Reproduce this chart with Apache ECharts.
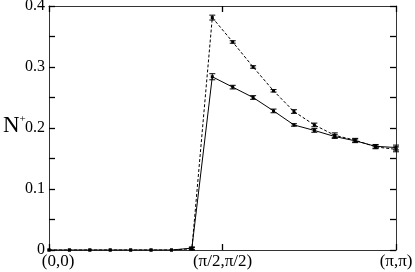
<!DOCTYPE html>
<html>
<head>
<meta charset="utf-8">
<script src="https://cdn.jsdelivr.net/npm/echarts@6/dist/echarts.min.js"></script>
<style>html,body{margin:0;padding:0;background:#fff;}#c{width:415px;height:272px;}</style>
</head>
<body>
<div id="c"></div>
<script>
// k index along path (0,0) -> (pi,pi), 17 steps
var kIndex = [0,1,2,3,4,5,6,7,8,9,10,11,12,13,14,15,16,17];
var solidVals  = [0,0,0,0,0,0,0,0.003,0.284,0.267,0.250,0.228,0.205,0.196,0.186,0.179,0.170,0.168];
var solidErr   = [0,0,0,0,0,0,0,0.002,0.005,0.003,0.003,0.003,0.002,0.003,0.003,0.003,0.003,0.004];
var dashedVals = [0,0,0,0,0,0,0,0.002,0.381,0.341,0.300,0.261,0.227,0.205,0.188,0.180,0.169,0.165];
var dashedErr  = [0,0,0,0,0,0,0,0.002,0.004,0.002,0.002,0.002,0.003,0.003,0.004,0.003,0.003,0.004];
var xTickLabels = {0:'(0,0)', 8.5:'(\u03c0/2,\u03c0/2)', 17:'(\u03c0,\u03c0)'};
var yTickLabels = {0:'0', 10:'0.1', 20:'0.2', 30:'0.3', 40:'0.4'};
var yName = ['N', '+'];

function pairs(xs, ys){ return xs.map(function(x,i){return [x, ys[i]];}); }
function errData(xs, ys, es){ return xs.map(function(x,i){return [x, ys[i]-es[i], ys[i]+es[i]];}); }

function errRender(params, api){
  var x = api.value(0), lo = api.value(1), hi = api.value(2);
  if (hi - lo <= 0) return null;
  var p1 = api.coord([x, lo]), p2 = api.coord([x, hi]);
  var hw = 3;
  var st = {stroke:'#000', lineWidth:1};
  return {type:'group', children:[
    {type:'line', shape:{x1:p1[0],y1:p1[1],x2:p2[0],y2:p2[1]}, style:st},
    {type:'line', shape:{x1:p1[0]-hw,y1:p1[1],x2:p1[0]+hw,y2:p1[1]}, style:st},
    {type:'line', shape:{x1:p2[0]-hw,y1:p2[1],x2:p2[0]+hw,y2:p2[1]}, style:st}
  ]};
}

var axisColor = '#333';
var fontFam = '"Liberation Serif","Times New Roman",serif';
function frameAxis(extra){
  var a = {
    type:'value', splitLine:{show:false},
    axisLine:{show:true, onZero:false, lineStyle:{color:axisColor, width:1}},
    axisTick:{show:true, inside:true, length:6, lineStyle:{color:'#000', width:1.3}},
    axisLabel:{show:false}
  };
  for (var k in extra) a[k] = extra[k];
  return a;
}
var chart = echarts.init(document.getElementById('c'), null, {renderer:'canvas'});
chart.setOption({
  backgroundColor:'#fff',
  animation:false,
  grid:{left:49, right:19, top:6, bottom:22, containLabel:false, outerBoundsMode:'none'},
  graphic:[{
    type:'text', left:3, top:114, z:10,
    style:{
      text:'{n|' + yName[0] + '}{p|' + yName[1] + '}',
      rich:{
        n:{fontFamily:fontFam, fontSize:23, lineHeight:23, fill:'#000', verticalAlign:'top'},
        p:{fontFamily:fontFam, fontSize:11, lineHeight:11, fill:'#000', verticalAlign:'top'}
      }
    }
  }],
  xAxis:[
    frameAxis({min:0, max:17, interval:8.5, position:'bottom'}),
    frameAxis({min:0, max:17, interval:8.5, position:'top'}),
    {
      type:'value', min:0, max:17, interval:8.5, position:'bottom',
      axisLine:{show:false}, axisTick:{show:false}, splitLine:{show:false},
      axisLabel:{
        margin:3, fontFamily:fontFam, fontSize:17, color:'#000',
        formatter:function(v){
          var s = xTickLabels[v] || '';
          if (v === 0) return '{a|' + s + '}';
          return s;
        },
        rich:{a:{fontFamily:fontFam, fontSize:17, color:'#000', padding:[0,0,0,18]}}
      }
    }
  ],
  yAxis:[
    frameAxis({min:0, max:0.4, interval:0.05, position:'left'}),
    frameAxis({min:0, max:0.4, interval:0.05, position:'right'}),
    {
      type:'value', min:0, max:0.4, interval:0.05, position:'left',
      axisLine:{show:false}, axisTick:{show:false}, splitLine:{show:false},
      axisLabel:{margin:4, fontFamily:fontFam, fontSize:16, color:'#000',
        formatter:function(v){ var k = Math.round(v*100); return yTickLabels[k] !== undefined ? yTickLabels[k] : ''; }}
    }
  ],
  series:[
    {type:'line', data:pairs(kIndex, dashedVals), xAxisIndex:0, yAxisIndex:0,
     symbol:'rect', symbolSize:3, itemStyle:{color:'#000'},
     lineStyle:{color:'#000', width:1, type:[3,2]}, z:3},
    {type:'line', data:pairs(kIndex, solidVals), xAxisIndex:0, yAxisIndex:0,
     symbol:'rect', symbolSize:3, itemStyle:{color:'#000'},
     lineStyle:{color:'#000', width:1}, z:3},
    {type:'custom', renderItem:errRender, data:errData(kIndex, dashedVals, dashedErr), encode:{x:0, y:[1,2]}, z:4},
    {type:'custom', renderItem:errRender, data:errData(kIndex, solidVals, solidErr), encode:{x:0, y:[1,2]}, z:4}
  ]
});
</script>
</body>
</html>
